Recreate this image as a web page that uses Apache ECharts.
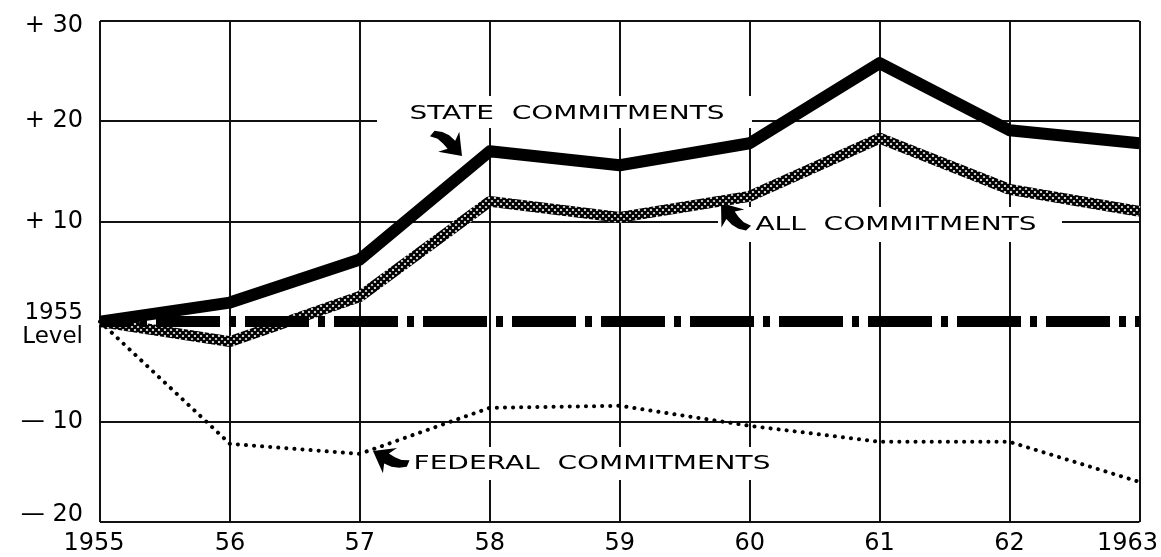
<!DOCTYPE html>
<html>
<head>
<meta charset="utf-8">
<script src="https://cdn.jsdelivr.net/npm/echarts@6/dist/echarts.min.js"></script>
<style>
  html, body { margin: 0; padding: 0; background: #fff; }
  #chart { width: 1161px; height: 557px; }
</style>
</head>
<body>
<div id="chart"></div>
<script>
// ---- data ----
const years = ['1955', '56', '57', '58', '59', '60', '61', '62', '1963'];
const stateCommitments   = [0, 1.9, 6.2, 17.0, 15.6, 17.8, 25.8, 19.1, 17.8];
const allCommitments     = [0, -2.0, 2.5, 12.0, 10.4, 12.5, 18.3, 13.2, 11.0];
const federalCommitments = [0, -12.2, -13.2, -8.6, -8.4, -10.4, -12.0, -12.0, -16.0];
const baseLevel = 0;
const yTickValues = [-20, -10, 0, 10, 20, 30];
const yTickLabels = ['\u2014 20', '\u2014 10', '1955\nLevel', '+ 10', '+ 20', '+ 30'];
const seriesNames = ['STATE  COMMITMENTS', 'ALL  COMMITMENTS', 'FEDERAL  COMMITMENTS'];

// ---- crosshatch pattern for "all commitments" ----
function hatchCanvas() {
  const n = 6;
  const c = document.createElement('canvas');
  c.width = n; c.height = n;
  const g = c.getContext('2d');
  g.fillStyle = '#fff'; g.fillRect(0, 0, n, n);
  g.strokeStyle = '#000'; g.lineWidth = 2.3;
  g.beginPath();
  g.moveTo(-1, -1); g.lineTo(n + 1, n + 1);
  g.moveTo(n + 1, -1); g.lineTo(-1, n + 1);
  g.stroke();
  return c;
}

const FONT = '"DejaVu Sans", sans-serif';
const arrowPoints = [[0, 0], [-20, -14], [-16, -5], [-24, -4], [-31, -1], [-37, 4], [-36, 11],
                     [-29, 7], [-22, 6], [-15, 6], [-19, 15]];

function arrow(x, y, rotation) {
  return { type: 'polygon', z: 3, silent: true, x: x, y: y, rotation: rotation,
           shape: { points: arrowPoints }, style: { fill: '#000' } };
}
function label(text, x, y) {
  return { type: 'text', z: 3, silent: true, x: x, y: y, scaleX: 1.4,
           style: { text: text, font: '20px ' + FONT, fill: '#000', align: 'center', verticalAlign: 'middle' } };
}

const chart = echarts.init(document.getElementById('chart'), null, { renderer: 'canvas' });
chart.setOption({
  animation: false,
  backgroundColor: '#fff',
  grid: { left: 100, right: 19, top: 21, bottom: 35 },
  xAxis: {
    type: 'category',
    data: years,
    boundaryGap: false,
    axisLine: { show: false },
    axisTick: { show: false },
    splitLine: { show: true, lineStyle: { color: '#111', width: 2 } },
    axisLabel: {
      interval: 0,
      color: '#000', fontFamily: FONT, fontSize: 24, margin: 10,
      formatter: function (v, i) {
        if (i === 0) return '{first|' + v + '}';
        if (i === years.length - 1) return '{last|' + v + '}';
        return v;
      },
      rich: {
        first: { fontFamily: FONT, fontSize: 24, color: '#000', padding: [0, 12, 0, 0] },
        last: { fontFamily: FONT, fontSize: 24, color: '#000', padding: [0, 24, 0, 0] }
      }
    }
  },
  yAxis: {
    type: 'value',
    min: yTickValues[0],
    max: yTickValues[yTickValues.length - 1],
    interval: 10,
    axisLine: { show: false },
    axisTick: { show: false },
    splitLine: {
      show: true,
      lineStyle: {
        width: 2,
        color: yTickValues.map(v => v === baseLevel ? 'rgba(0,0,0,0)' : '#111')
      }
    },
    axisLabel: {
      color: '#000', fontFamily: FONT, fontSize: 24, margin: 17,
      formatter: function (v) {
        const i = yTickValues.indexOf(v);
        if (i < 0) return '';
        if (i === 0) return '{lo|' + yTickLabels[i] + '}';
        if (i === yTickValues.length - 1) return '{hi|' + yTickLabels[i] + '}';
        if (yTickValues[i] === baseLevel) return '{lvl|' + yTickLabels[i] + '}';
        return yTickLabels[i];
      },
      rich: {
        lo: { fontFamily: FONT, fontSize: 24, color: '#000', padding: [0, 0, 14, 0] },
        hi: { fontFamily: FONT, fontSize: 24, color: '#000', padding: [10, 0, 0, 0] },
        lvl: { fontFamily: FONT, fontSize: 23, lineHeight: 24, color: '#000', padding: [7, 0, 0, 0] }
      }
    }
  },
  graphic: [
    { type: 'rect', z: 1, silent: true, shape: { x: 377, y: 96, width: 375, height: 32 }, style: { fill: '#fff' } },
    { type: 'rect', z: 1, silent: true, shape: { x: 718, y: 207, width: 344, height: 35 }, style: { fill: '#fff' } },
    { type: 'rect', z: 1, silent: true, shape: { x: 408, y: 447, width: 372, height: 33 }, style: { fill: '#fff' } },
    label(seriesNames[0], 567, 114),
    label(seriesNames[1], 896, 225),
    label(seriesNames[2], 592, 464),
    arrow(462, 156, -0.85),
    arrow(721, 203, 2.2),
    arrow(373, 451, 2.6)
  ],
  series: [
    {
      name: 'Federal Commitments', type: 'line', data: federalCommitments,
      showSymbol: false, silent: true, z: 2,
      lineStyle: { color: '#000', width: 4, type: [0.1, 8], cap: 'round' }
    },
    {
      name: 'All Commitments', type: 'line', data: allCommitments,
      showSymbol: false, silent: true, z: 3,
      lineStyle: { color: { image: hatchCanvas(), repeat: 'repeat' }, width: 11 },
      markLine: {
        silent: true, symbol: 'none', label: { show: false },
        lineStyle: { color: '#000', width: 11, type: [64, 9, 7, 9], dashOffset: 33 },
        data: [{ yAxis: baseLevel }]
      }
    },
    {
      name: 'State Commitments', type: 'line', data: stateCommitments,
      showSymbol: false, silent: true, z: 4,
      lineStyle: { color: '#000', width: 12, join: 'round' }
    }
  ]
});
</script>
</body>
</html>
